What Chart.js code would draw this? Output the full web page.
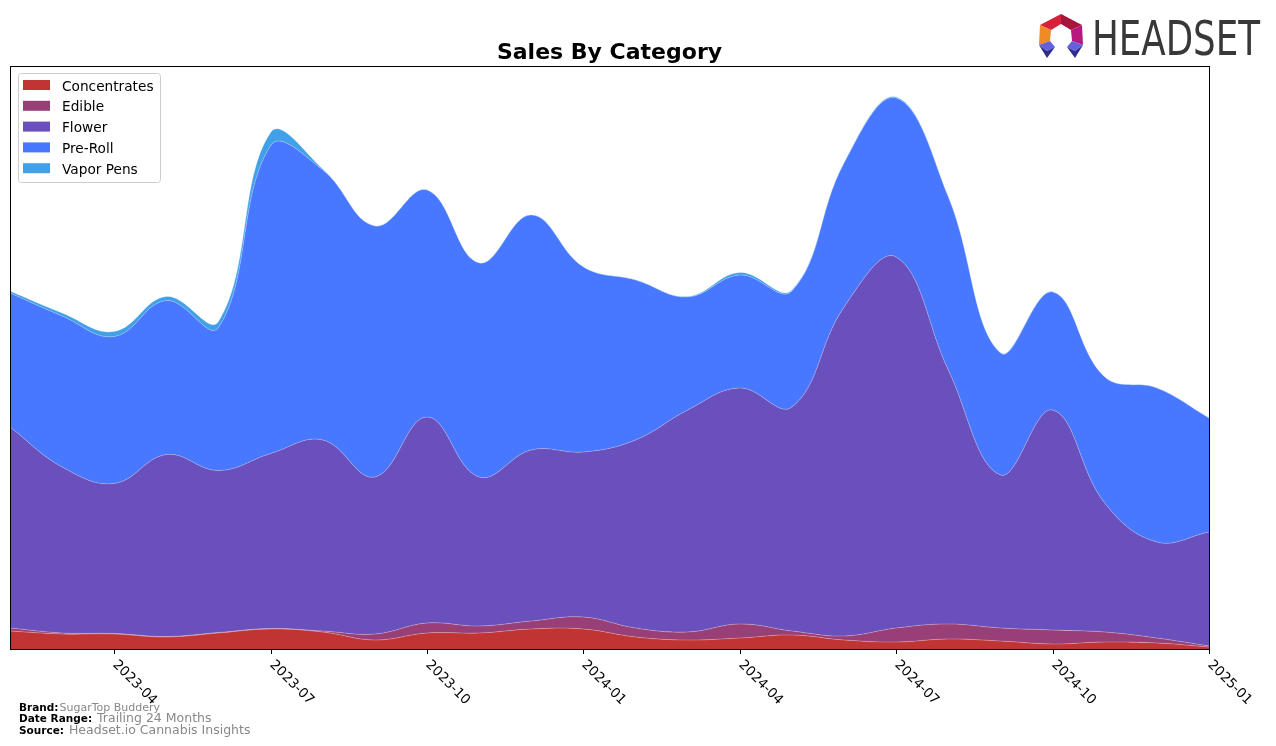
<!DOCTYPE html>
<html>
<head>
<meta charset="utf-8">
<script src="https://cdn.jsdelivr.net/npm/chart.js@4/dist/chart.umd.min.js"></script>
<style>
  body { margin: 0; background: #fff; }
  #wrap { width: 1276px; height: 746px; }
</style>
</head>
<body>
<div id="wrap"><canvas id="salesChart" width="1276" height="746"></canvas></div>
<script>
// Meses (trailing 24 months)
const months = ['2023-02','2023-03','2023-04','2023-05','2023-06','2023-07','2023-08','2023-09','2023-10','2023-11','2023-12',
  '2024-01','2024-02','2024-03','2024-04','2024-05','2024-06','2024-07','2024-08','2024-09','2024-10','2024-11','2024-12','2025-01'];

// Valores (unidades relativas)
const concentrates = [18,15,15,12,16,20,17,9,16,16,20,20,12,9,11,14,9,7,10,8,5,7,6,2];
const edible = [3,1,0.5,0.5,0.5,0.5,1,6,10,7,8,12,9,8,14,4,4,14,15,13,14,10,5,1];
const flower = [201,166,150,182,162,175,191,157,206,149,171,165,188,222,236,224,329,371,254,153,220,129,96,114];
const preRoll = [134,151,147,154,143,308,270,251,227,214,235,185,160,113,113,116,144,159,173,122,118,126,154,114];
const vaporPens = [2,3,5,4,6,13,1,0.3,0.3,0.3,0.3,0.3,0.3,0.5,2.5,1,0.5,1,0.5,0.5,0.3,0.3,0.3,0.3];

const tickLabels = ['2023-04','2023-07','2023-10','2024-01','2024-04','2024-07','2024-10','2025-01'];

const categories = ['Concentrates','Edible','Flower','Pre-Roll','Vapor Pens'];
const colors = ['#C03434','#993F77','#6A50BC','#4878FF','#40A0E8'];
const series = [concentrates, edible, flower, preRoll, vaporPens];

// Moldura, ticks, título, legenda, rodapé e logo
const decorPlugin = {
  id: 'decor',
  afterDraw(chart) {
    const ctx = chart.ctx;
    const area = chart.chartArea;
    const xScale = chart.scales.x;
    ctx.save();

    // caixa do gráfico
    ctx.strokeStyle = '#000';
    ctx.lineWidth = 1;
    ctx.strokeRect(area.left + 0.5, area.top + 0.5, area.right - area.left, area.bottom - area.top);

    // ticks e labels do eixo x
    ctx.font = '13.5px "DejaVu Sans"';
    ctx.fillStyle = '#000';
    ctx.textAlign = 'left';
    ctx.textBaseline = 'top';
    tickLabels.forEach(lbl => {
      const x = Math.round(xScale.getPixelForValue(months.indexOf(lbl))) + 0.5;
      ctx.beginPath();
      ctx.moveTo(x, area.bottom);
      ctx.lineTo(x, area.bottom + 5);
      ctx.stroke();
      ctx.save();
      ctx.translate(x + 5, area.bottom + 9);
      ctx.rotate(Math.PI / 4);
      ctx.fillText(lbl, 0, 0);
      ctx.restore();
    });

    // título
    ctx.font = 'bold 22px "DejaVu Sans"';
    ctx.textAlign = 'center';
    ctx.textBaseline = 'alphabetic';
    ctx.fillText('Sales By Category', (area.left + area.right) / 2, 59);

    // legenda
    const lx = 18, ly = 73, lw = 142, lh = 109;
    ctx.beginPath();
    ctx.roundRect(lx + 0.5, ly + 0.5, lw, lh, 3);
    ctx.fillStyle = 'rgba(255,255,255,0.8)';
    ctx.fill();
    ctx.strokeStyle = '#CCCCCC';
    ctx.stroke();
    ctx.font = '13.7px "DejaVu Sans"';
    ctx.textAlign = 'left';
    ctx.textBaseline = 'middle';
    categories.forEach((name, i) => {
      const cy = 85 + i * 20.8;
      ctx.fillStyle = colors[i];
      ctx.fillRect(23, cy - 5, 27, 10);
      ctx.fillStyle = '#000';
      ctx.fillText(name, 62, cy + 2);
    });

    // rodapé
    ctx.textBaseline = 'alphabetic';
    const footer = [
      ['Brand:', 'SugarTop Buddery', 711, 11],
      ['Date Range:', ' Trailing 24 Months', 722, 12.5],
      ['Source:', ' Headset.io Cannabis Insights', 734, 12.5]
    ];
    footer.forEach(([label, value, y, size]) => {
      ctx.font = 'bold 10.5px "DejaVu Sans"';
      ctx.fillStyle = '#000';
      ctx.fillText(label, 19, y);
      const w = ctx.measureText(label).width;
      ctx.font = size + 'px "DejaVu Sans"';
      ctx.fillStyle = '#888';
      ctx.fillText(value, 19 + w + 1, y);
    });

    // logo HEADSET
    const poly = (pts, color) => {
      ctx.beginPath();
      ctx.moveTo(pts[0][0], pts[0][1]);
      for (let i = 1; i < pts.length; i++) ctx.lineTo(pts[i][0], pts[i][1]);
      ctx.closePath();
      ctx.fillStyle = color;
      ctx.fill();
    };
    poly([[1040,25],[1061,14],[1061,24],[1051,30]], '#D8203A');
    poly([[1061,14],[1082,25],[1071,30],[1061,24]], '#A8153C');
    poly([[1082,25],[1083,45],[1072,41],[1071,30]], '#B8177E');
    poly([[1040,25],[1051,30],[1050,41],[1039,45]], '#F08A24');
    poly([[1039,45],[1050,41],[1055,47],[1047,51]], '#6560DD');
    poly([[1039,45],[1047,51],[1055,47],[1047,58]], '#2E2F8C');
    poly([[1083,45],[1072,41],[1067,47],[1075,51]], '#6560DD');
    poly([[1083,45],[1075,51],[1067,47],[1075,58]], '#2E2F8C');

    ctx.font = '48px "Liberation Sans Narrow", "DejaVu Sans Condensed", "Liberation Sans"';
    ctx.fillStyle = '#383838';
    ctx.textAlign = 'left';
    ctx.textBaseline = 'alphabetic';
    const tw = ctx.measureText('HEADSET').width;
    ctx.save();
    ctx.translate(1092, 55);
    ctx.scale(168 / tw, 1);
    ctx.fillText('HEADSET', 0, 0);
    ctx.restore();

    ctx.restore();
  }
};

const datasets = categories.map((name, i) => ({
  label: name,
  data: series[i],
  backgroundColor: colors[i],
  borderColor: 'rgba(255,255,255,0.25)',
  borderWidth: 1,
  fill: i === 0 ? 'origin' : '-1',
  pointRadius: 0,
  tension: 0.4
}));

new Chart(document.getElementById('salesChart').getContext('2d'), {
  type: 'line',
  data: { labels: months, datasets: datasets },
  options: {
    responsive: false,
    animation: false,
    layout: { padding: { left: 10, right: 67, top: 66, bottom: 97 } },
    plugins: { legend: { display: false }, title: { display: false }, tooltip: { enabled: false } },
    scales: {
      x: { display: false },
      y: { display: false, stacked: true, min: 0, max: 583 }
    }
  },
  plugins: [decorPlugin]
});
</script>
</body>
</html>
